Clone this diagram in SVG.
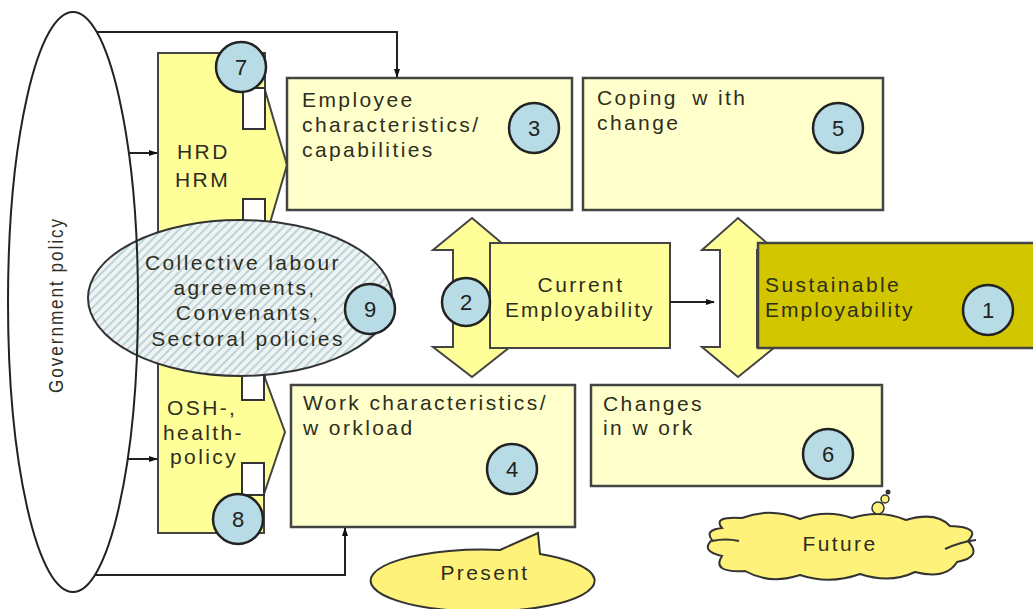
<svg xmlns="http://www.w3.org/2000/svg" width="1033" height="609" viewBox="0 0 1033 609">
<defs>
<style>
.t{font-family:"Liberation Sans",Arial,sans-serif;font-size:21px;letter-spacing:2.4px;fill:#2e2e1e}
.n{font-family:"Liberation Sans",Arial,sans-serif;font-size:22px;fill:#222;text-anchor:middle}
.ln{fill:none;stroke:#222;stroke-width:2}
.box{fill:#FFFFCC;stroke:#444;stroke-width:2.5}
.yel{fill:#FFFF99;stroke:#444;stroke-width:2}
.num{fill:#B8DCE6;stroke:#222;stroke-width:2.5}
.notch{fill:#fff;stroke:#333;stroke-width:2}
.bub{fill:#FFF27A;stroke:#333;stroke-width:2}
</style>
<marker id="ah" markerWidth="9" markerHeight="8" refX="8" refY="4" orient="auto" markerUnits="userSpaceOnUse">
<path d="M0,1 L9,4 L0,7 Z" fill="#111"/>
</marker>
<pattern id="hatch" width="6" height="6" patternUnits="userSpaceOnUse" patternTransform="rotate(45)">
<rect width="6" height="6" fill="#EEF4F4"/>
<rect width="2" height="6" fill="#BDD3D7"/>
</pattern>
</defs>
<rect width="1033" height="609" fill="#fff"/>

<g id="hrd-osh-column">
<polygon class="yel" points="158,53 265,53 265,90 287,165 265,240 265,378 285,432 264,494 264,533 158,533"/>
<rect class="notch" x="243" y="88" width="22" height="41"/>
<rect class="notch" x="243" y="199" width="22" height="40"/>
<rect class="notch" x="242" y="370" width="22" height="30"/>
<rect class="notch" x="242" y="463" width="22" height="32"/>
<text class="t" x="177" y="159">HRD</text>
<text class="t" x="175" y="187">HRM</text>
<text class="t" x="167" y="415">OSH-,</text>
<text class="t" x="163" y="440">health-</text>
<text class="t" x="170" y="464">policy</text>
</g>

<g id="n7"><circle class="num" cx="241" cy="67" r="25"/><text class="n" x="241" y="75">7</text></g>
<g id="n8"><circle class="num" cx="238" cy="519" r="25"/><text class="n" x="238" y="527">8</text></g>

<g id="collective">
<ellipse cx="240" cy="298" rx="152" ry="78" fill="url(#hatch)" stroke="#333" stroke-width="2"/>
<text class="t" x="243" y="270" text-anchor="middle">Collective labour</text>
<text class="t" x="245" y="295" text-anchor="middle">agreements,</text>
<text class="t" x="248" y="320" text-anchor="middle">Convenants,</text>
<text class="t" x="248" y="346" text-anchor="middle">Sectoral policies</text>
<circle class="num" cx="370" cy="309" r="25"/><text class="n" x="370" y="317">9</text>
</g>

<g id="government-policy">
<ellipse cx="73" cy="302" rx="65" ry="290" fill="none" stroke="#222" stroke-width="2"/>
<text class="t" font-size="22" letter-spacing="0" text-anchor="middle" transform="translate(63,305) rotate(-90)" textLength="176" lengthAdjust="spacingAndGlyphs">Government policy</text>
</g>

<g id="employee">
<rect class="box" x="287" y="78" width="285" height="132"/>
<text class="t" x="302" y="107">Employee</text>
<text class="t" x="302" y="132">characteristics/</text>
<text class="t" x="302" y="157">capabilities</text>
<circle class="num" cx="534" cy="128" r="25"/><text class="n" x="534" y="136">3</text>
</g>

<g id="coping">
<rect class="box" x="583" y="78" width="300" height="132"/>
<text class="t" x="597" y="105">Coping <tspan dx="6">w ith</tspan></text>
<text class="t" x="597" y="130">change</text>
<circle class="num" cx="838" cy="128" r="25"/><text class="n" x="838" y="136">5</text>
</g>

<g id="work">
<rect class="box" x="291" y="385" width="284" height="142"/>
<text class="t" x="303" y="410">Work characteristics/</text>
<text class="t" x="303" y="435">w orkload</text>
<circle class="num" cx="512" cy="469" r="25"/><text class="n" x="512" y="477">4</text>
</g>

<g id="changes">
<rect class="box" x="591" y="385" width="291" height="101"/>
<text class="t" x="603" y="411">Changes</text>
<text class="t" x="603" y="435">in w ork</text>
<circle class="num" cx="828" cy="454" r="25"/><text class="n" x="828" y="462">6</text>
</g>

<g id="left-double-arrow">
<polygon class="yel" points="472,218 510,250 490,250 490,347 510,347 472,377 433,347 453,347 453,250 433,250"/>
</g>

<g id="current">
<rect x="490" y="243" width="180" height="105" fill="#FFFF99" stroke="#444" stroke-width="2"/>
<text class="t" x="581" y="292" text-anchor="middle">Current</text>
<text class="t" x="580" y="317" text-anchor="middle" textLength="150" lengthAdjust="spacing">Employability</text>
</g>
<g id="n2"><circle class="num" cx="466" cy="302" r="24"/><text class="n" x="466" y="310">2</text></g>

<g id="right-double-arrow">
<polygon class="yel" points="738,218 775,250 757,250 757,347 775,347 738,377 702,347 720,347 720,250 702,250"/>
</g>

<g id="sustainable">
<rect x="758" y="243" width="285" height="105" fill="#D2C600" stroke="#444" stroke-width="2.5"/>
<text class="t" x="765" y="292">Sustainable</text>
<text class="t" x="765" y="317" textLength="150" lengthAdjust="spacing">Employability</text>
<circle class="num" cx="988" cy="310" r="25"/><text class="n" x="988" y="318">1</text>
</g>

<g id="connectors">
<path class="ln" d="M97,32 H397 V77" marker-end="url(#ah)"/>
<path class="ln" d="M95,575 H345 V528" marker-end="url(#ah)"/>
<path class="ln" d="M129,153 H157" marker-end="url(#ah)"/>
<path class="ln" d="M128,459 H157" marker-end="url(#ah)"/>
<path class="ln" d="M670,302 H714" marker-end="url(#ah)"/>
</g>

<g id="present">
<path class="bub" d="M500,550 L538,533 L540,554 A112,31 0 1,1 500,550 Z"/>
<text class="t" x="485" y="580" font-size="24" text-anchor="middle">Present</text>
</g>

<g id="future">
<path class="bub" d="M722,528 Q712,516 742,518 Q770,507 800,519 Q826,509 852,518 Q880,509 906,520 Q936,511 950,526 Q982,527 968,541 Q983,557 957,562 Q946,580 915,572 Q890,584 860,574 Q830,585 800,575 Q770,585 745,571 Q711,573 722,556 Q700,551 712,540 Q704,530 722,528 Z"/>
<path d="M712,541 Q726,538 739,541" fill="none" stroke="#333" stroke-width="2"/>
<path d="M945,549 Q960,542 976,540" fill="none" stroke="#333" stroke-width="2"/>
<circle cx="878" cy="508" r="6" fill="#FFF27A" stroke="#333" stroke-width="1.5"/>
<circle cx="885" cy="499" r="4" fill="#FFF27A" stroke="#333" stroke-width="1.5"/>
<circle cx="888" cy="492" r="2.5" fill="#333"/>
<text class="t" x="840" y="551" font-size="24" text-anchor="middle">Future</text>
</g>
</svg>
